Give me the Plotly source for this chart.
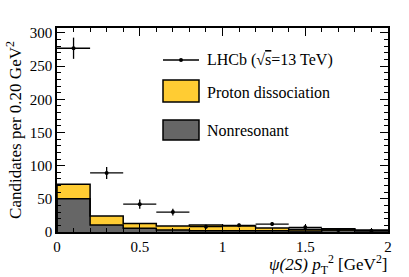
import plotly.graph_objects as go

bin_lo = [0.0, 0.2, 0.4, 0.6, 0.8, 1.0, 1.2, 1.4, 1.6, 1.8]
bin_w = 0.2
data_y = [277, 89, 42, 30, 8, 10, 12, 7, 3, 2]
data_err = [16, 9, 7, 5, 3, 3, 3, 3, 2, 2]
nonres = [50, 10.5, 5.5, 3, 2, 2, 2, 1.5, 3, 2]
total = [72, 24, 13, 9, 10.5, 9, 6, 4, 5, 3]
protdiss = [t - n for t, n in zip(total, nonres)]

YELLOW = "#FFCC33"
GRAY = "#666666"
FONT = "Liberation Serif"

centers = [b + bin_w / 2 for b in bin_lo]
fig = go.Figure()

fig.add_trace(go.Bar(x=centers, y=nonres, width=bin_w, marker=dict(color=GRAY, line=dict(width=0)),
                     name="Nonresonant", showlegend=False))
fig.add_trace(go.Bar(x=centers, y=protdiss, width=bin_w, marker=dict(color=YELLOW, line=dict(width=0)),
                     name="Proton dissociation", showlegend=False))

# step outlines
step_x = bin_lo + [bin_lo[-1] + bin_w]
for vals in (nonres, total):
    fig.add_trace(go.Scatter(x=[0.0] + step_x, y=[0] + vals + [vals[-1]], mode="lines",
                             line=dict(color="black", width=1.5, shape="hv"), showlegend=False,
                             hoverinfo="skip"))

fig.add_trace(go.Scatter(x=centers, y=data_y, mode="markers",
                         marker=dict(color="black", size=4),
                         error_x=dict(type="constant", value=bin_w / 2, color="black", thickness=1.3, width=0),
                         error_y=dict(type="data", array=data_err, color="black", thickness=1.3, width=0),
                         name="LHCb", showlegend=False))

W, H = 409, 277
L, R, T, B = 57, 21, 28, 45
PW, PH = W - L - R, H - T - B


def px(x):
    return (x - L) / PW


def py(y):
    return (H - B - y) / PH


lx0, lx1 = 163, 199
shapes = [
    dict(type="line", xref="paper", yref="paper", x0=px(lx0), x1=px(lx1), y0=py(60), y1=py(60),
         line=dict(color="black", width=1.3)),
    dict(type="circle", xref="paper", yref="paper", xsizemode="pixel", ysizemode="pixel",
         xanchor=px(181), yanchor=py(60), x0=-2, x1=2, y0=-2, y1=2,
         fillcolor="black", line=dict(color="black", width=0)),
    dict(type="rect", xref="paper", yref="paper", x0=px(lx0), x1=px(lx1), y0=py(80), y1=py(102),
         fillcolor=YELLOW, line=dict(color="black", width=1.5)),
    dict(type="rect", xref="paper", yref="paper", x0=px(lx0), x1=px(lx1), y0=py(120), y1=py(140),
         fillcolor=GRAY, line=dict(color="black", width=1.5)),
]
annotations = [
    dict(xref="paper", yref="paper", x=px(205), y=py(60),
         text="LHCb (√<span style=\"text-decoration:overline\">s</span>=13 TeV)", showarrow=False,
         xanchor="left", yanchor="middle", font=dict(size=16, color="black", family=FONT)),
    dict(xref="paper", yref="paper", x=px(205), y=py(92), text="Proton dissociation", showarrow=False,
         xanchor="left", yanchor="middle", font=dict(size=16, color="black", family=FONT)),
    dict(xref="paper", yref="paper", x=px(205), y=py(130), text="Nonresonant", showarrow=False,
         xanchor="left", yanchor="middle", font=dict(size=16, color="black", family=FONT)),
    dict(xref="paper", yref="paper", x=px(390), y=py(264),
         text="<i>ψ(2S) p</i><sub>T</sub><sup>2</sup> [GeV<sup>2</sup>]", showarrow=False,
         xanchor="right", yanchor="middle", font=dict(size=17, color="black", family=FONT)),
]

fig.update_layout(
    width=W, height=H,
    margin=dict(l=L, r=R, t=T, b=B),
    paper_bgcolor="white", plot_bgcolor="white",
    barmode="stack", bargap=0,
    font=dict(family=FONT, size=15, color="black"),
    shapes=shapes, annotations=annotations,
    xaxis=dict(range=[0, 2], tickvals=[0, 0.5, 1, 1.5, 2], ticktext=["0", "0.5", "1", "1.5", "2"],
               ticks="inside", ticklen=8, tickwidth=1, tickcolor="black",
               minor=dict(dtick=0.1, ticks="inside", ticklen=4, tickcolor="black"),
               showline=True, linecolor="black", linewidth=1.5, mirror="ticks",
               showgrid=False, zeroline=False, tickfont=dict(size=15)),
    yaxis=dict(range=[0, 307.5], tickvals=[0, 50, 100, 150, 200, 250, 300],
               ticks="inside", ticklen=8, tickwidth=1, tickcolor="black",
               minor=dict(dtick=10, ticks="inside", ticklen=4, tickcolor="black"),
               showline=True, linecolor="black", linewidth=1.5, mirror="ticks",
               showgrid=False, zeroline=False, tickfont=dict(size=15),
               title=dict(text="Candidates per 0.20 GeV<sup>2</sup>", font=dict(size=17), standoff=4)),
)

fig.write_html("out.html", config={"displayModeBar": False},
               post_script="document.body.style.margin='0';")
